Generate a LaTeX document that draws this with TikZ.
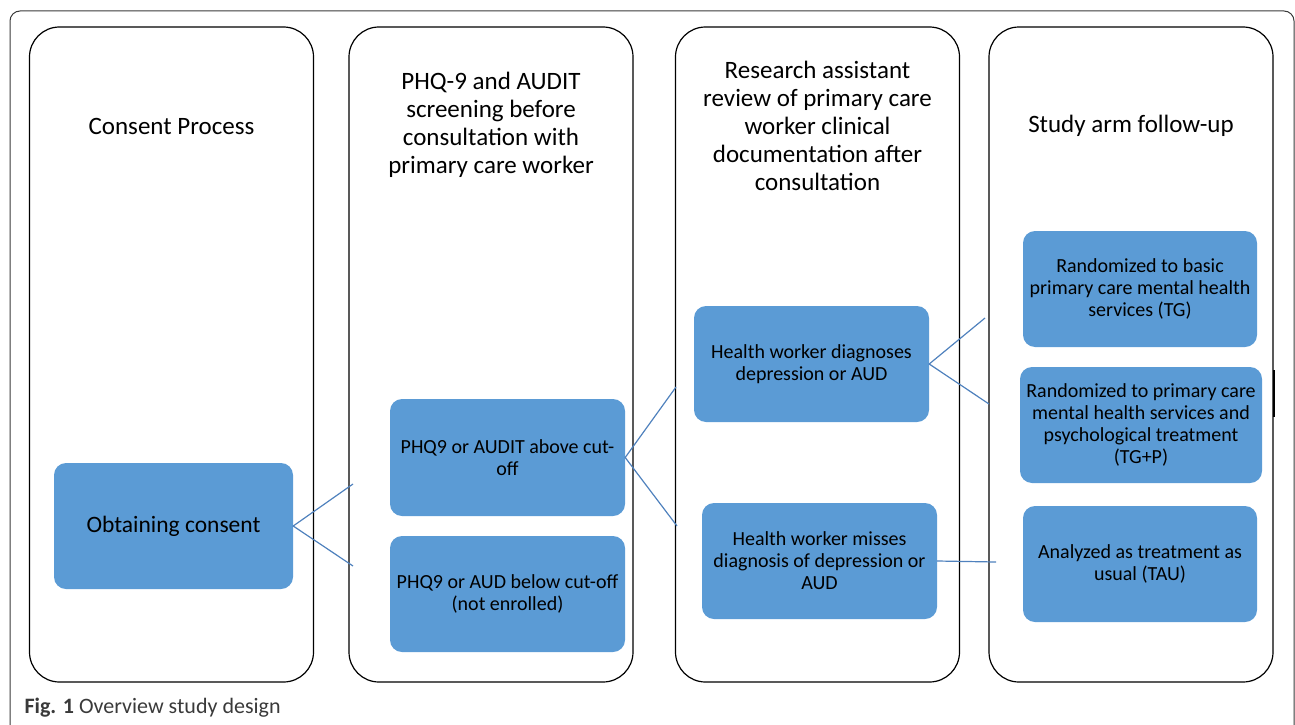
\documentclass[tikz,border=0pt]{standalone}
\usepackage{fontspec}
\setmainfont{Carlito}
\usepackage{xcolor}

\definecolor{boxblue}{HTML}{5B9BD5}
\definecolor{linkblue}{HTML}{4F81BD}
\definecolor{captiongray}{HTML}{3A3A3A}

\begin{document}
\begin{tikzpicture}[
    x=1pt, y=-1pt,
    stage/.style={draw, line width=1.2pt, rounded corners=30pt, minimum width=284pt, minimum height=655pt, inner sep=0pt},
    heading/.style={align=center, font=\fontsize{25}{28}\selectfont},
    box/.style={fill=boxblue, rounded corners=12pt, align=center, inner sep=0pt, minimum height=116pt, font=\fontsize{20}{22}\selectfont},
    link/.style={linkblue, line width=1.2pt}
]
\useasboundingbox (0,0) rectangle (1295,725);

% outer frame (open at the bottom)
\draw[line width=1pt, captiongray, rounded corners=10pt] (10,730) -- (10,11) -- (1294,11) -- (1294,730);

% Stage columns
\node[stage] (col1) at (171.5,354.5) {};
\node[stage] (col2) at (491,354.5) {};
\node[stage] (col3) at (817.5,354.5) {};
\node[stage] (col4) at (1131,354.5) {};
\draw[line width=2.2pt] (1274,370) -- (1274,417);

% Column headings
\node[heading] (head1) at (171.5,126) {Consent Process};
\node[heading] (head2) at (491,125) {PHQ-9 and AUDIT\\screening before\\consultation with\\primary care worker};
\node[heading] (head3) at (817.5,126) {Research assistant\\review of primary care\\worker clinical\\documentation after\\consultation};
\node[heading] (head4) at (1131,126) {Study arm follow-up};

% Consent
\node[box, minimum width=239pt, minimum height=126pt, font=\fontsize{23.5}{26}\selectfont] (consent) at (173.5,526) {Obtaining consent};

% Screening
\node[box, minimum width=235pt, minimum height=117pt] (above) at (507.5,457.5) {PHQ9 or AUDIT above cut-\\off};
\node[box, minimum width=235pt] (below) at (507.5,594) {PHQ9 or AUD below cut-off\\(not enrolled)};

% Review
\node[box, minimum width=235pt] (diag) at (811.5,364) {Health worker diagnoses\\depression or AUD};
\node[box, minimum width=235pt] (miss) at (819.5,561) {Health worker misses\\diagnosis of depression or\\AUD};

% Study arms
\node[box, minimum width=234pt] (basic) at (1140,289) {Randomized to basic\\primary care mental health\\services (TG)};
\node[box, minimum width=242pt] (tgp) at (1141,425) {Randomized to primary care\\mental health services and\\psychological treatment\\(TG+P)};
\node[box, minimum width=234pt] (tau) at (1140,564) {Analyzed as treatment as\\usual (TAU)};

% Connector ends
\coordinate (c1a) at (353,484);
\coordinate (c1b) at (353,566);
\coordinate (c2a) at (676,387);
\coordinate (c2b) at (677,526);
\coordinate (c3a) at (985,318);
\coordinate (c3b) at (989,404);
\coordinate (c4) at (996,562);

% Connections
\draw[link] (c1a) -- (consent.east) -- (c1b);
\draw[link] (c2a) -- (above.east) -- (c2b);
\draw[link] (c3a) -- (diag.east) -- (c3b);
\draw[link] (miss.east) -- (c4);

% Caption
\node[anchor=west, text=captiongray, font=\fontsize{22}{24}\selectfont] (caption) at (21,708) {\textbf{Fig. 1} Overview study design};

\end{tikzpicture}
\end{document}
